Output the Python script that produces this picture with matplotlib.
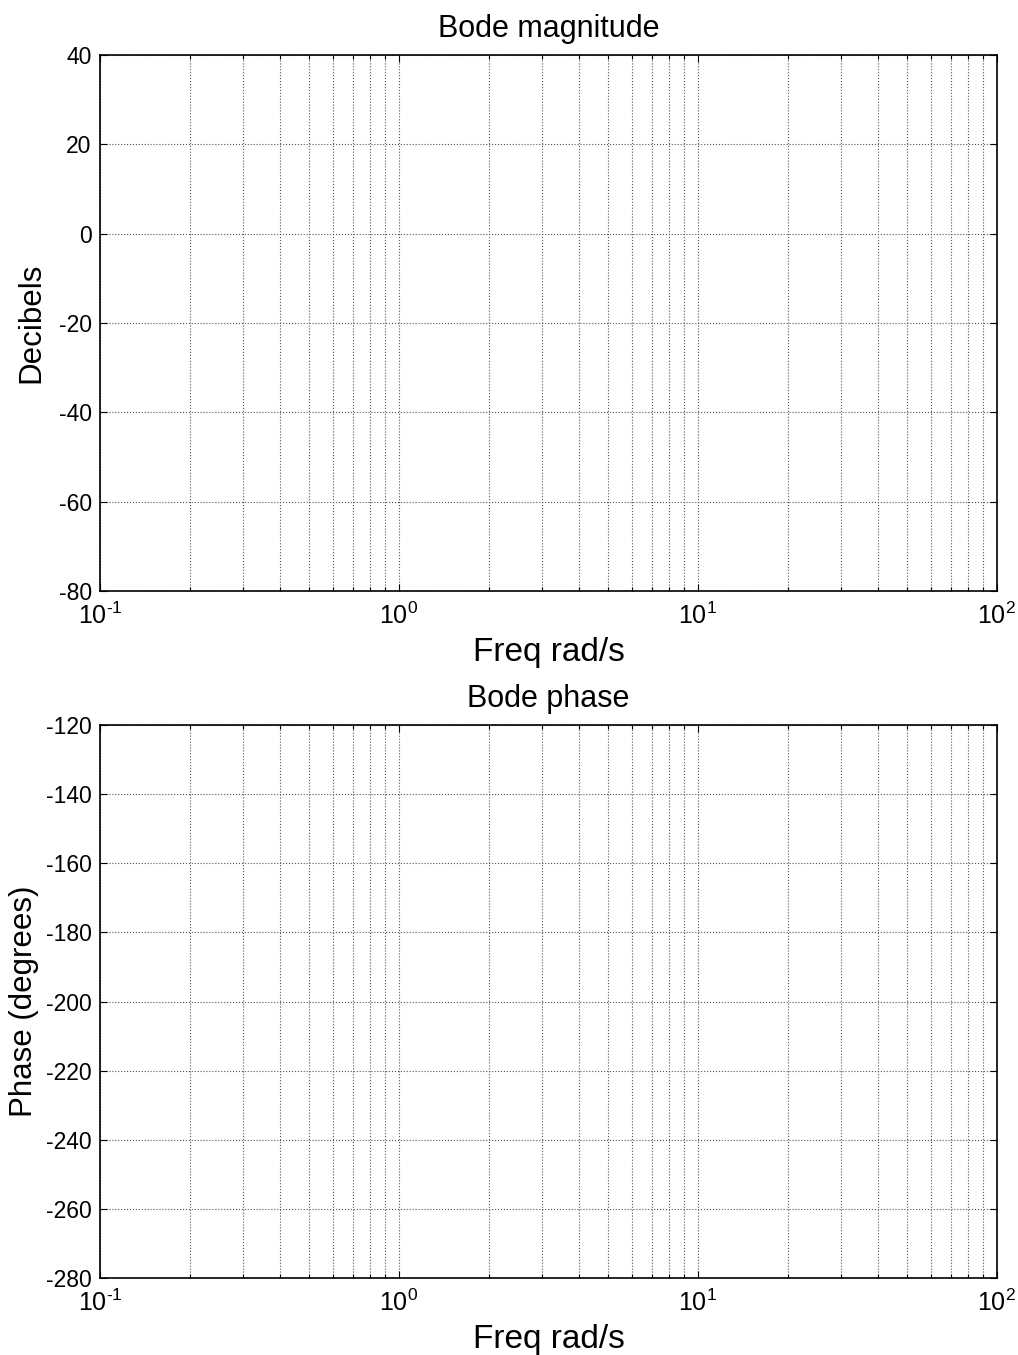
import numpy as np
import matplotlib
matplotlib.use("Agg")
import matplotlib.pyplot as plt
from matplotlib.ticker import LogLocator, NullFormatter, FuncFormatter

plt.rcParams['font.family'] = ['Liberation Sans', 'DejaVu Sans']
plt.rcParams['axes.unicode_minus'] = False
plt.rcParams['mathtext.fontset'] = 'custom'
plt.rcParams['mathtext.rm'] = 'Liberation Sans'

# axis settings
freq_range = [0.1, 100]
mag_range = [-80, 40]
mag_ticks = [-80, -60, -40, -20, 0, 20, 40]
phase_range = [-280, -120]
phase_ticks = [-280, -260, -240, -220, -200, -180, -160, -140, -120]

titles = ["Bode magnitude", "Bode phase"]
ylabels = ["Decibels", "Phase (degrees)"]
xlabel = "Freq rad/s"

fig = plt.figure(figsize=(10.18, 13.55), dpi=100)
ax1 = fig.add_axes([0.0982, 0.5638, 0.8811, 0.3956])
ax2 = fig.add_axes([0.0982, 0.0568, 0.8811, 0.4081])


def decade_label(v, pos):
    e = int(round(np.log10(v)))
    if e < 0:
        return r'$\mathregular{10^{\text{-}%d}}$' % abs(e)
    return r'$\mathregular{10^{%d}}$' % e


def style_axis(ax, ylim, yticks, title, ylabel, ypad):
    ax.set_xscale('log')
    ax.set_xlim(freq_range)
    ax.set_ylim(ylim)
    ax.set_yticks(yticks)
    ax.xaxis.set_major_locator(LogLocator(base=10, numticks=10))
    ax.xaxis.set_major_formatter(FuncFormatter(decade_label))
    ax.xaxis.set_minor_locator(LogLocator(base=10, subs=np.arange(2, 10), numticks=20))
    ax.xaxis.set_minor_formatter(NullFormatter())
    ax.grid(True, which='major', axis='both', color='#555555', linestyle=':', linewidth=0.8)
    ax.grid(True, which='minor', axis='x', color='#555555', linestyle=':', linewidth=0.8)
    ax.tick_params(which='both', direction='in', top=True, right=True)
    ax.tick_params(axis='y', labelsize=16.5, pad=6)
    ax.tick_params(axis='x', labelsize=18, pad=8)
    ax.tick_params(which='major', length=5, width=0.8)
    ax.tick_params(which='minor', length=3, width=0.8)
    for s in ax.spines.values():
        s.set_linewidth(1.2)
    ax.set_title(title, fontsize=22, pad=13)
    ax.set_xlabel(xlabel, fontsize=24, labelpad=6)
    ax.set_ylabel(ylabel, fontsize=22.5, labelpad=ypad)


style_axis(ax1, mag_range, mag_ticks, titles[0], ylabels[0], 9)
style_axis(ax2, phase_range, phase_ticks, titles[1], ylabels[1], 5)

fig.savefig("out.png", dpi=100)
